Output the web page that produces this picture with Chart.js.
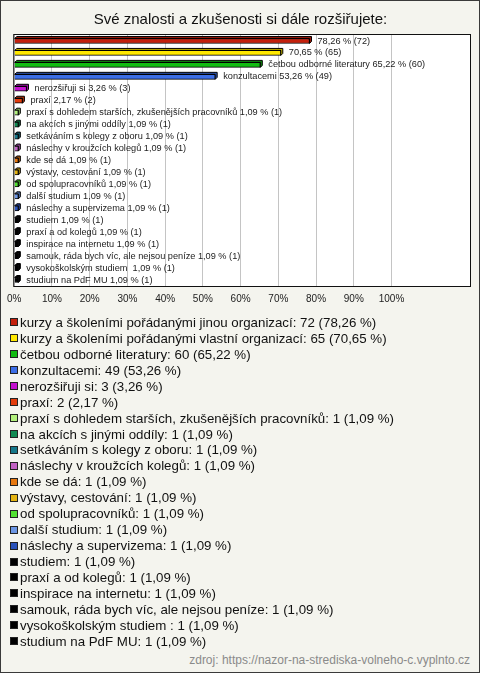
<!DOCTYPE html>
<html lang="cs">
<head>
<meta charset="utf-8">
<title>Své znalosti a zkušenosti si dále rozšiřujete</title>
<script src="https://cdn.jsdelivr.net/npm/chart.js@4.4.1/dist/chart.umd.min.js"></script>
<style>
  body { margin: 0; background: #f4f4ee; font-family: "Liberation Sans", Arial, sans-serif; }
  #frame { position: absolute; left: 0; top: 0; width: 480px; height: 673px; box-sizing: border-box; border: 1px solid #3a3a3a; }
  #chartBox { position: absolute; left: 0; top: 0; width: 480px; height: 316px; }
  #legend { position: absolute; left: 10px; top: 314.5px; font-size: 13.3px; color: #111; }
  .item { height: 15.95px; display: flex; align-items: center; white-space: pre; }
  .swatch { width: 6px; height: 6px; border: 1px solid #222; margin-right: 2px; flex: none; }
  #source { position: absolute; right: 10px; top: 653px; font-size: 12px; color: #8a8a8a; }
</style>
</head>
<body>
<div id="frame"></div>
<div id="chartBox"><canvas id="canvas"></canvas></div>
<div id="legend"></div>
<div id="source">zdroj: https://nazor-na-strediska-volneho-c.vyplnto.cz</div>
<script>
const categories = [
  'kurzy a školeními pořádanými jinou organizací',
  'kurzy a školeními pořádanými vlastní organizací',
  'četbou odborné literatury',
  'konzultacemi',
  'nerozšiřuji si',
  'praxí',
  'praxí s dohledem starších, zkušenějších pracovníků',
  'na akcích s jinými oddíly',
  'setkáváním s kolegy z oboru',
  'náslechy v kroužcích kolegů',
  'kde se dá',
  'výstavy, cestování',
  'od spolupracovníků',
  'další studium',
  'náslechy a supervizema',
  'studiem',
  'praxí a od kolegů',
  'inspirace na internetu',
  'samouk, ráda bych víc, ale nejsou peníze',
  'vysokoškolským studiem ',
  'studium na PdF MU',
];
const counts = [72, 65, 60, 49, 3, 2, 1, 1, 1, 1, 1, 1, 1, 1, 1, 1, 1, 1, 1, 1, 1];
const percents = [78.26, 70.65, 65.22, 53.26, 3.26, 2.17, 1.09, 1.09, 1.09, 1.09, 1.09, 1.09, 1.09, 1.09, 1.09, 1.09, 1.09, 1.09, 1.09, 1.09, 1.09];
// the two longest names are left out of the bar labels in the original
const nameOnBar = [false, false, true, true, true, true, true, true, true, true, true, true, true, true, true, true, true, true, true, true, true];
const xTicks = [0, 10, 20, 30, 40, 50, 60, 70, 80, 90, 100];

const colors = [
  '#c4200c', '#ffe800', '#12bb12', '#3c6ee6', '#c412d0', '#e23c0c', '#b2f07c',
  '#108a52', '#16788a', '#c262c4', '#e67810', '#e4b412', '#52e032', '#6c96e4',
  '#2a52ba', '#000000', '#000000', '#000000', '#000000', '#000000', '#000000',
];

const fmt = (v) => v.toFixed(2).replace('.', ',');

function darker(hex, f) {
  const n = parseInt(hex.slice(1), 16);
  const r = Math.round(((n >> 16) & 255) * f);
  const g = Math.round(((n >> 8) & 255) * f);
  const b = Math.round((n & 255) * f);
  return `rgb(${r},${g},${b})`;
}

const plotBox = {
  id: 'plotBox',
  beforeDraw(chart) {
    const { ctx, chartArea: a } = chart;
    ctx.save();
    ctx.fillStyle = '#ffffff';
    ctx.fillRect(a.left, a.top, a.right - a.left, a.bottom - a.top);
    ctx.restore();
  },
  afterDraw(chart) {
    const { ctx, chartArea: a } = chart;
    ctx.save();
    ctx.strokeStyle = '#111';
    ctx.lineWidth = 1;
    ctx.strokeRect(a.left - 0.5, a.top - 0.5, a.right - a.left + 1, a.bottom - a.top + 1);
    ctx.restore();
  },
};

// top and side faces for the 3D look
const depthFaces = {
  id: 'depthFaces',
  beforeDatasetsDraw(chart) {
    const { ctx } = chart;
    const d = 2;
    chart.getDatasetMeta(0).data.forEach((bar, i) => {
      const top = bar.y - bar.height / 2;
      const bottom = bar.y + bar.height / 2;
      ctx.save();
      ctx.strokeStyle = '#000';
      ctx.lineWidth = 1;
      ctx.fillStyle = darker(colors[i], 0.75);
      ctx.beginPath();
      ctx.moveTo(bar.base, top);
      ctx.lineTo(bar.base + d, top - d);
      ctx.lineTo(bar.x + d, top - d);
      ctx.lineTo(bar.x + d, bottom - d);
      ctx.lineTo(bar.x, bottom);
      ctx.lineTo(bar.x, top);
      ctx.closePath();
      ctx.fill();
      ctx.stroke();
      ctx.restore();
    });
  },
  afterDatasetsDraw(chart) {
    const { ctx } = chart;
    ctx.save();
    ctx.font = '9.2px "Liberation Sans", Arial, sans-serif';
    ctx.fillStyle = '#222';
    ctx.textBaseline = 'middle';
    chart.getDatasetMeta(0).data.forEach((bar, i) => {
      const text = (nameOnBar[i] ? categories[i] + ' ' : '') + fmt(percents[i]) + ' % (' + counts[i] + ')';
      ctx.fillText(text, bar.x + 8, bar.y);
    });
    ctx.restore();
  },
};

const canvas = document.getElementById('canvas');

new Chart(canvas, {
  type: 'bar',
  data: {
    labels: categories,
    datasets: [
      {
        data: percents,
        backgroundColor: colors,
        borderColor: '#000',
        borderWidth: 1,
        barThickness: 5,
      },
    ],
  },
  options: {
    indexAxis: 'y',
    responsive: true,
    maintainAspectRatio: false,
    animation: false,
    layout: { padding: { left: 11, right: 10, top: 0, bottom: 4 } },
    plugins: {
      legend: { display: false },
      tooltip: { enabled: false },
      title: {
        display: true,
        text: 'Své znalosti a zkušenosti si dále rozšiřujete:',
        color: '#111',
        font: { family: '"Liberation Sans", Arial, sans-serif', size: 15, weight: 'normal' },
        padding: { top: 11, bottom: 6 },
      },
    },
    scales: {
      y: { display: false },
      x: {
        min: 0,
        max: 120.8,
        border: { display: false },
        grid: {
          drawTicks: false,
          color: (c) => (c.tick && xTicks.includes(c.tick.value) ? '#c4c4c4' : 'rgba(0,0,0,0)'),
        },
        ticks: {
          stepSize: 10,
          padding: 7,
          autoSkip: false,
          maxRotation: 0,
          color: '#222',
          font: { family: '"Liberation Sans", Arial, sans-serif', size: 10 },
          callback: (v) => (xTicks.includes(v) ? v + '%' : ''),
        },
      },
    },
  },
  plugins: [plotBox, depthFaces],
});

const legend = document.getElementById('legend');
categories.forEach((name, i) => {
  const row = document.createElement('div');
  row.className = 'item';
  const sw = document.createElement('span');
  sw.className = 'swatch';
  sw.style.background = colors[i];
  row.appendChild(sw);
  row.appendChild(document.createTextNode(name + ': ' + counts[i] + ' (' + fmt(percents[i]) + ' %)'));
  legend.appendChild(row);
});
</script>
</body>
</html>
